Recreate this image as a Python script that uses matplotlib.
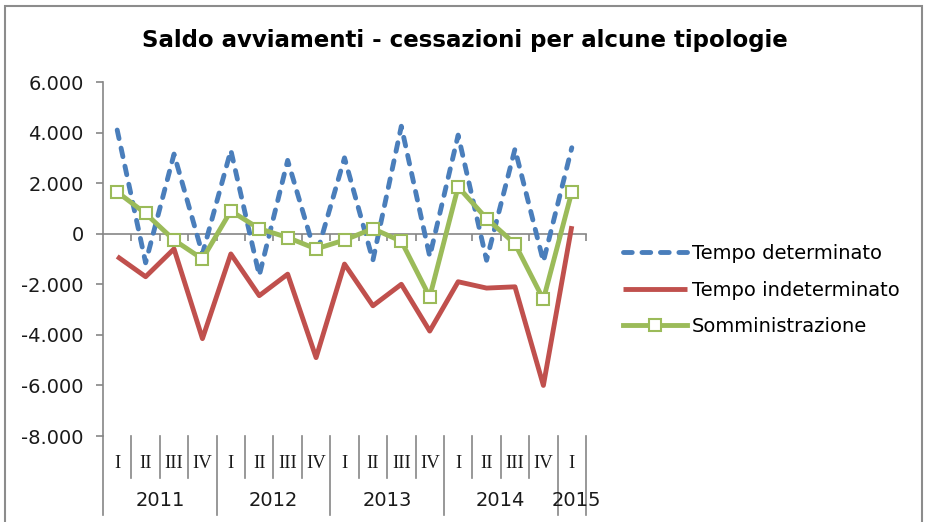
import numpy as np
import matplotlib
matplotlib.use("Agg")
import matplotlib.pyplot as plt
from matplotlib.patches import Rectangle
from matplotlib.transforms import blended_transform_factory

# data
quarters = ["I", "II", "III", "IV"] * 4 + ["I"]
years = ["2011", "2012", "2013", "2014", "2015"]
quarters_per_year = [4, 4, 4, 4, 1]

tempo_det = [4100, -1150, 3150, -800, 3300, -1650, 2900, -900,
             3000, -1050, 4250, -900, 3900, -1050, 3350, -1100, 3400]
tempo_indet = [-900, -1700, -600, -4150, -800, -2450, -1600, -4900,
               -1200, -2850, -2000, -3850, -1900, -2150, -2100, -6000, 300]
somministrazione = [1650, 800, -250, -1000, 900, 200, -150, -600,
                    -250, 200, -300, -2500, 1850, 600, -400, -2600, 1650]

y_ticks = list(range(-8000, 6001, 2000))

BLUE = "#4a7ebb"
RED = "#c0504d"
GREEN = "#9bbb59"
GRAY = "#868686"

W, H = 925, 522
fig = plt.figure(figsize=(W / 100, H / 100), dpi=100)

# outer chart border (bottom edge is cut off in the reference)
fig.add_artist(Rectangle((5 / W, -0.05), (922 - 5) / W, 1.05 - 6 / H,
                         transform=fig.transFigure, fill=False,
                         edgecolor="#8c8c8c", linewidth=1.5))

# plot area in pixels: x 103..586, y 82..436
ax = fig.add_axes([103 / W, 1 - 436 / H, (586 - 103) / W, (436 - 82) / H])

x = np.arange(len(quarters))
ax.plot(x, tempo_det, color=BLUE, lw=3.5, dashes=(1.8, 2.0),
        dash_capstyle="round", label="Tempo determinato", zorder=3)
ax.plot(x, tempo_indet, color=RED, lw=3.5, solid_capstyle="butt",
        label="Tempo indeterminato", zorder=3)
ax.plot(x, somministrazione, color=GREEN, lw=3.5, marker="s", ms=9,
        mfc="white", mec=GREEN, mew=1.5, label="Somministrazione", zorder=4)

ax.set_xlim(-0.5, len(quarters) - 0.5)
ax.set_ylim(-8000, 6000)
ax.set_yticks(y_ticks)
ax.set_yticklabels([f"{v:,.0f}".replace(",", ".") for v in y_ticks],
                   fontsize=14, color="#1a1a1a")
ax.tick_params(axis="y", direction="out", length=5, width=1.2,
               color=GRAY, pad=9)

for s in ["top", "right"]:
    ax.spines[s].set_visible(False)
ax.spines["left"].set_color(GRAY)
ax.spines["left"].set_linewidth(1.2)
ax.spines["bottom"].set_position(("data", 0))
ax.spines["bottom"].set_color(GRAY)
ax.spines["bottom"].set_linewidth(1.2)
ax.set_xticks(x + 0.5)
ax.tick_params(axis="x", direction="out", length=5, width=1.2,
               color=GRAY, labelbottom=False)

# category labels below the plot area
tr = blended_transform_factory(ax.transData, ax.transAxes)
ph = 436 - 82
for i, q in enumerate(quarters):
    ax.text(i, -27 / ph, q, transform=tr, ha="center", va="center",
            fontsize=13.5, family="Liberation Serif", color="#1a1a1a")

year_edges = np.concatenate([[0], np.cumsum(quarters_per_year)]) - 0.5
for i, yr in enumerate(years):
    cx = (year_edges[i] + year_edges[i + 1]) / 2
    ax.text(cx + (0.15 if quarters_per_year[i] == 1 else 0), -64 / ph, yr,
            transform=tr, ha="center", va="center", fontsize=14,
            color="#1a1a1a")

for b in np.arange(len(quarters) + 1) - 0.5:
    long = b in year_edges
    y_end = -(515 - 436) / ph if long else -(478 - 436) / ph
    ax.plot([b, b], [0, y_end], transform=tr, color=GRAY, lw=1.2,
            clip_on=False)

fig.text(465 / W, 1 - 40 / H, "Saldo avviamenti - cessazioni per alcune tipologie",
         ha="center", va="center", fontsize=16.5, fontweight="bold",
         color="#000000")

fig.legend(loc="center left", bbox_to_anchor=(623 / W, 1 - 290 / H),
           frameon=False, fontsize=14, handlelength=3.3, handletextpad=0.25,
           labelspacing=0.9, borderpad=0, borderaxespad=0)

fig.savefig("out.png", dpi=100)
